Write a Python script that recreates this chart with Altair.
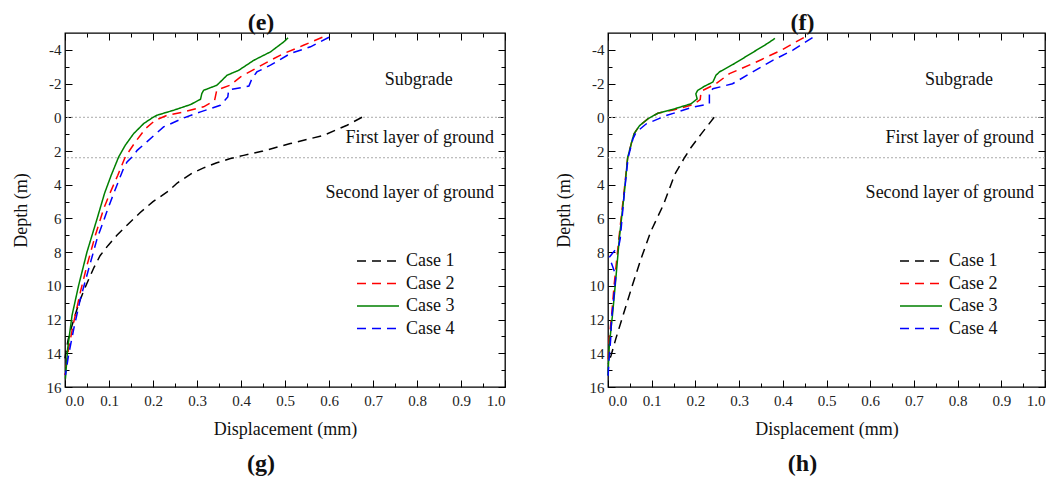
import altair as alt
import pandas as pd

FONT = "Liberation Serif"
CASES = ["Case 1", "Case 2", "Case 3", "Case 4"]
COLORS = ["#000000", "#ff0000", "#008000", "#0000ff"]
DASHES = [[9, 6], [9, 6], [1, 0], [9, 6]]

X_MAJOR = [round(i * 0.1, 1) for i in range(11)]
X_MINOR = [round(0.05 + i * 0.1, 2) for i in range(10)]
Y_MAJOR = list(range(-4, 17, 2))
Y_MINOR = list(range(-3, 16, 2))
LAYER_BOUNDS = [0.0, 2.4]
ANN_LABELS = ["Subgrade", "First layer of ground", "Second layer of ground"]
ANN_X = [0.881, 0.975, 0.975]
ANN_Y = [-2.2, 1.25, 4.5]

# ---- panel (e) ----
E1_DEPTH = [0.0, 0.47, 1.07, 1.56, 2.0, 2.26, 2.45, 2.7, 3.0, 3.3, 3.9, 4.4, 5.0, 5.65, 6.3, 7.0, 7.6, 8.2, 8.9, 9.6, 10.2, 10.8, 11.4, 12.0, 12.6, 13.2, 13.8, 14.3]
E1_DISP = [0.675, 0.641, 0.588, 0.512, 0.45, 0.406, 0.376, 0.345, 0.315, 0.29, 0.255, 0.234, 0.20, 0.171, 0.145, 0.118, 0.098, 0.080, 0.066, 0.054, 0.044, 0.035, 0.027, 0.020, 0.013, 0.007, 0.003, 0.0]
E2_DEPTH = [-4.75, -4.27, -3.78, -3.38, -2.89, -2.40, -1.90, -1.62, -1.00, -0.62, -0.32, -0.12, 0.18, 0.67, 1.46, 2.35, 3.44, 4.63, 5.42, 7.0, 8.78, 10.36, 12.14, 13.73, 14.72, 15.3]
E2_DISP = [0.585, 0.542, 0.497, 0.467, 0.433, 0.399, 0.375, 0.345, 0.340, 0.315, 0.270, 0.232, 0.205, 0.183, 0.160, 0.137, 0.120, 0.100, 0.088, 0.069, 0.050, 0.035, 0.020, 0.008, 0.003, 0.0]
E3_DEPTH = [-4.71, -4.47, -3.88, -3.38, -2.79, -2.49, -2.20, -1.90, -1.60, -1.41, -1.07, -0.75, -0.42, -0.12, 0.04, 0.37, 0.97, 1.66, 2.35, 3.44, 4.5, 6.01, 7.99, 9.97, 11.75, 13.73, 15.5]
E3_DISP = [0.507, 0.497, 0.467, 0.429, 0.395, 0.368, 0.357, 0.345, 0.315, 0.311, 0.308, 0.285, 0.247, 0.209, 0.198, 0.179, 0.156, 0.137, 0.122, 0.105, 0.090, 0.073, 0.050, 0.031, 0.016, 0.006, 0.001]
E4_DEPTH = [-4.75, -4.18, -3.78, -3.09, -2.69, -2.30, -1.85, -1.62, -1.21, -0.71, -0.32, 0.04, 0.57, 1.46, 1.96, 2.26, 2.65, 3.04, 4.03, 4.63, 5.61, 7.2, 8.98, 10.76, 12.54, 14.12, 15.3]
E4_DISP = [0.600, 0.558, 0.512, 0.467, 0.436, 0.425, 0.418, 0.372, 0.370, 0.353, 0.308, 0.270, 0.224, 0.186, 0.164, 0.156, 0.141, 0.133, 0.118, 0.109, 0.095, 0.073, 0.054, 0.035, 0.020, 0.008, 0.001]

# ---- panel (f) ----
F1_DEPTH = [0.0, 1.0, 1.79, 2.4, 3.38, 5.18, 6.77, 8.36, 9.95, 11.54, 13.13, 14.13, 14.6]
F1_DISP = [0.243, 0.213, 0.190, 0.175, 0.153, 0.127, 0.098, 0.076, 0.056, 0.037, 0.018, 0.007, 0.0]
F2_DEPTH = [-4.73, -4.0, -3.18, -2.59, -1.95, -1.55, -1.05, -0.75, -0.45, -0.24, 0.10, 0.50, 0.96, 1.29, 2.39, 4.58, 7.16, 9.95, 11.54, 13.1, 14.5]
F2_DISP = [0.448, 0.398, 0.331, 0.278, 0.245, 0.213, 0.211, 0.195, 0.152, 0.114, 0.091, 0.072, 0.060, 0.056, 0.045, 0.036, 0.025, 0.014, 0.009, 0.003, 0.0]
F3_DEPTH = [-4.68, -4.38, -3.78, -3.18, -2.69, -2.49, -2.09, -1.83, -1.59, -1.39, -1.09, -0.80, -0.50, -0.24, 0.10, 0.50, 0.96, 1.29, 2.39, 4.58, 7.16, 9.55, 11.54, 13.53, 15.3]
F3_DISP = [0.382, 0.365, 0.327, 0.289, 0.255, 0.247, 0.240, 0.220, 0.205, 0.201, 0.204, 0.190, 0.152, 0.114, 0.091, 0.072, 0.060, 0.056, 0.045, 0.037, 0.026, 0.018, 0.011, 0.003, 0.0]
F4_DEPTH = [-4.73, -3.98, -3.38, -2.69, -1.99, -1.69, -1.49, -0.80, -0.60, -0.10, 0.40, 0.90, 1.29, 2.39, 4.58, 7.2, 7.6, 8.3, 9.4, 10.5, 12.0, 13.2, 14.5, 15.5]
F4_DISP = [0.468, 0.423, 0.377, 0.331, 0.285, 0.240, 0.232, 0.232, 0.194, 0.133, 0.087, 0.064, 0.057, 0.046, 0.037, 0.028, 0.025, 0.003, 0.018, 0.014, 0.008, 0.006, 0.002, 0.0]


def make_df(series):
    rows = []
    for case, depth, disp in series:
        for i, (d, v) in enumerate(zip(depth, disp)):
            rows.append({"case": case, "idx": i, "depth": d, "disp": v})
    return pd.DataFrame(rows)


DF_E = make_df([("Case 1", E1_DEPTH, E1_DISP), ("Case 2", E2_DEPTH, E2_DISP),
                ("Case 3", E3_DEPTH, E3_DISP), ("Case 4", E4_DEPTH, E4_DISP)])
DF_F = make_df([("Case 1", F1_DEPTH, F1_DISP), ("Case 2", F2_DEPTH, F2_DISP),
                ("Case 3", F3_DEPTH, F3_DISP), ("Case 4", F4_DEPTH, F4_DISP)])
ANN_DF = pd.DataFrame({"label": ANN_LABELS, "x": ANN_X, "y": ANN_Y})

MAJOR, MINOR = 7, 4


def panel(df, top_label, bottom_label, width, height):
    xs = alt.Scale(domain=[0, 1], nice=False, zero=False)
    ys = alt.Scale(domain=[-5, 16], reverse=True, nice=False, zero=False)

    legend = alt.Legend(
        title=None, orient="none", legendX=302, legendY=217, padding=0,
        symbolType="M-2.1,0H2.1", symbolSize=400, symbolStrokeWidth=1.5,
        labelFont=FONT, labelFontSize=18, labelColor="#111", labelOffset=17,
        rowPadding=2.5,
    )

    def tick_axis(orient, offset, values, size):
        return alt.Axis(orient=orient, offset=offset, values=values, tickSize=size,
                        ticks=True, labels=False, domain=False, title=None,
                        tickColor="#000", tickWidth=1)

    rules = alt.Chart(pd.DataFrame({"y": LAYER_BOUNDS})).mark_rule(
        color="#aaaaaa", strokeDash=[2, 2], strokeWidth=1
    ).encode(y=alt.Y("y:Q", scale=ys, axis=None))

    lines = alt.Chart(df).mark_line(strokeWidth=1.5).encode(
        x=alt.X("disp:Q", scale=xs, axis=alt.Axis(
            orient="bottom", title="Displacement (mm)", values=X_MAJOR,
            format=".1f", ticks=False, domain=False, labelPadding=6,
            titlePadding=12)),
        y=alt.Y("depth:Q", scale=ys, axis=alt.Axis(
            orient="left", title="Depth (m)", values=Y_MAJOR,
            labelExpr="'' + datum.value", ticks=False, domain=False,
            labelPadding=4, titlePadding=16)),
        color=alt.Color("case:N", scale=alt.Scale(domain=CASES, range=COLORS), legend=legend),
        strokeDash=alt.StrokeDash("case:N", scale=alt.Scale(domain=CASES, range=DASHES), legend=legend),
        order=alt.Order("idx:Q"),
    )

    ann = alt.Chart(ANN_DF).mark_text(
        align="right", baseline="middle", font=FONT, fontSize=18, color="#111"
    ).encode(
        x=alt.X("x:Q", scale=xs, axis=tick_axis("top", -height, X_MAJOR, MAJOR)),
        y=alt.Y("y:Q", scale=ys, axis=tick_axis("right", -width, Y_MAJOR, MAJOR)),
        text="label:N",
    )

    def ghost(x_orient, y_orient, xv, yv, size):
        return alt.Chart(ANN_DF).mark_point(opacity=0).encode(
            x=alt.X("x:Q", scale=xs, axis=tick_axis(x_orient, -height, xv, size)),
            y=alt.Y("y:Q", scale=ys, axis=tick_axis(y_orient, -width, yv, size)),
        )

    g1 = ghost("top", "right", X_MINOR, Y_MINOR, MINOR)      # bottom & left edges
    g2 = ghost("bottom", "left", X_MAJOR, Y_MAJOR, MAJOR)    # top & right edges
    g3 = ghost("bottom", "left", X_MINOR, Y_MINOR, MINOR)

    top = alt.Chart(pd.DataFrame({"t": [top_label]})).mark_text(
        font=FONT, fontSize=24, fontWeight="bold", baseline="middle", color="#111"
    ).encode(text="t:N", x=alt.value(width / 2 - 24), y=alt.value(-10))

    bottom = alt.Chart(pd.DataFrame({"t": [bottom_label]})).mark_text(
        font=FONT, fontSize=24, fontWeight="bold", baseline="middle", color="#111"
    ).encode(text="t:N", x=alt.value(width / 2 - 24), y=alt.value(height + 77))

    return alt.layer(rules, lines, ann, g1, g2, g3, top, bottom).resolve_axis(
        x="independent", y="independent"
    ).properties(width=width, height=height)


pe = panel(DF_E, "(e)", "(g)", 440, 354)
pf = panel(DF_F, "(f)", "(h)", 437, 354)

chart = alt.hconcat(pe, pf, spacing=47).resolve_scale(
    color="independent", strokeDash="independent"
).resolve_legend(
    color="independent", strokeDash="independent"
).properties(
    padding={"left": 11, "top": 10, "right": 5, "bottom": 0}, background="white"
).configure_view(stroke="#000", strokeWidth=1.3).configure_axis(
    grid=False,
    labelFont=FONT, labelFontSize=15, labelColor="#222",
    titleFont=FONT, titleFontSize=18, titleFontWeight="normal", titleColor="#111",
)

chart.save("out.html", embed_options={"renderer": "svg", "actions": False})
